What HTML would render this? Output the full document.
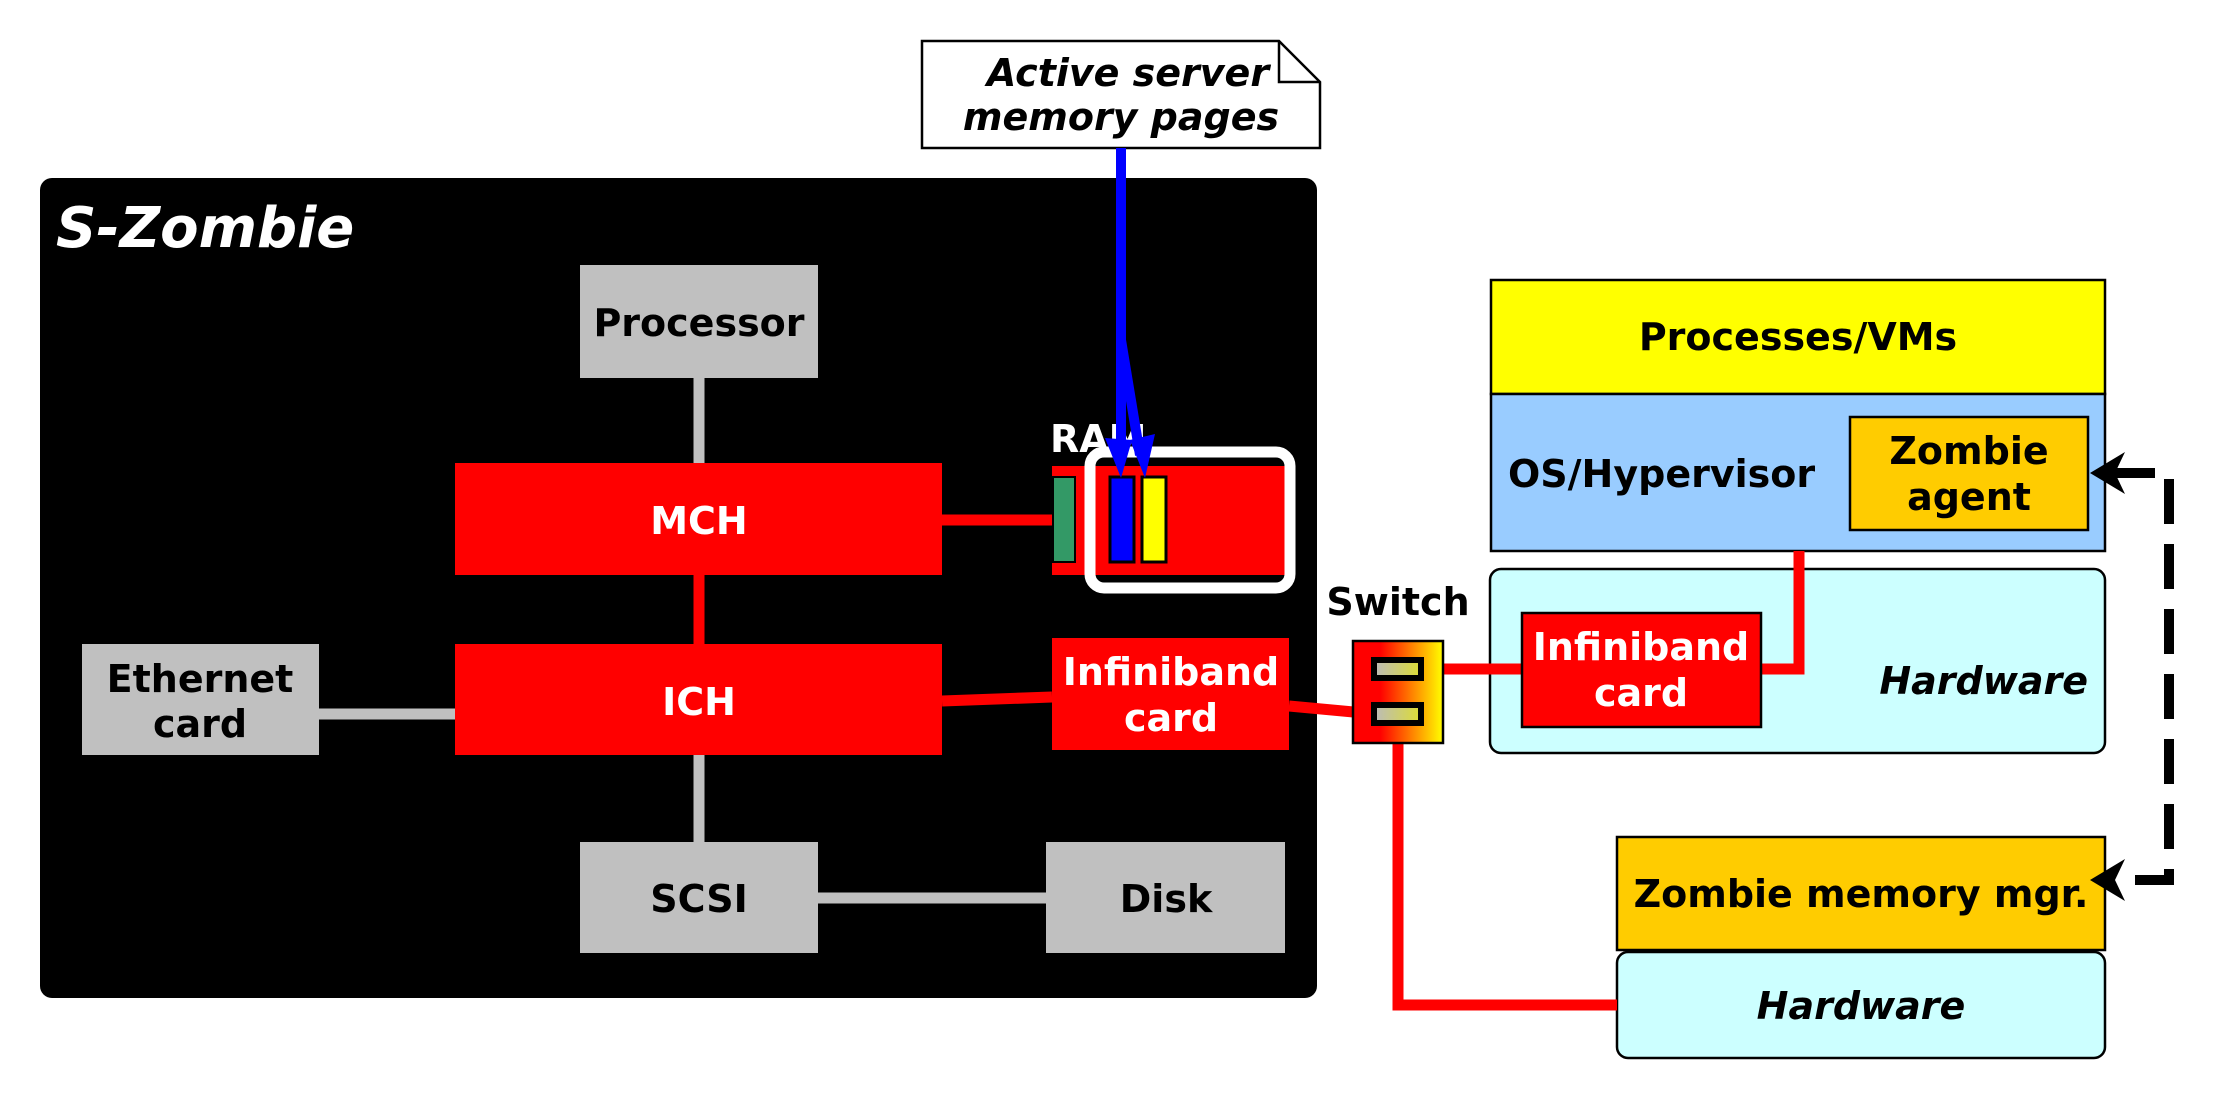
<!DOCTYPE html>
<html><head><meta charset="utf-8"><style>
html,body{margin:0;padding:0;background:#fff;}
svg{display:block;}
text{font-family:"DejaVu Sans","Liberation Sans",sans-serif;font-weight:bold;}
</style></head><body>
<svg width="2214" height="1103" viewBox="0 0 2214 1103" xmlns="http://www.w3.org/2000/svg">
<defs>
<linearGradient id="sw" x1="0" x2="1" y1="0" y2="0">
<stop offset="0.3" stop-color="#ff0000"/><stop offset="1" stop-color="#ffff00"/></linearGradient>
<linearGradient id="pt" x1="0" x2="1"><stop offset="0" stop-color="#bbbbbb"/><stop offset="1" stop-color="#dddd33"/></linearGradient>
</defs>
<rect x="40" y="178" width="1277" height="820" rx="12" fill="#000"/>
<text x="56" y="247" font-size="56" font-style="italic" fill="#fff">S-Zombie</text>

<line x1="699" y1="378" x2="699" y2="463" stroke="#c0c0c0" stroke-width="11"/>
<line x1="699" y1="575" x2="699" y2="644" stroke="#ff0000" stroke-width="11"/>
<line x1="699" y1="755" x2="699" y2="842" stroke="#c0c0c0" stroke-width="11"/>
<line x1="319" y1="714" x2="455" y2="714" stroke="#c0c0c0" stroke-width="11"/>
<line x1="818" y1="898" x2="1046" y2="898" stroke="#c0c0c0" stroke-width="11"/>
<line x1="942" y1="520" x2="1054" y2="520" stroke="#ff0000" stroke-width="11"/>
<line x1="942" y1="701" x2="1052" y2="697" stroke="#ff0000" stroke-width="11"/>

<rect x="580" y="265" width="238" height="113" fill="#c0c0c0"/>
<text x="699" y="336" font-size="38" text-anchor="middle" fill="#000">Processor</text>
<rect x="455" y="463" width="487" height="112" fill="#ff0000"/>
<text x="699" y="534" font-size="38" text-anchor="middle" fill="#fff">MCH</text>
<rect x="455" y="644" width="487" height="111" fill="#ff0000"/>
<text x="699" y="715" font-size="38" text-anchor="middle" fill="#fff">ICH</text>
<rect x="82" y="644" width="237" height="111" fill="#c0c0c0"/>
<text x="200" y="692" font-size="38" text-anchor="middle" fill="#000">Ethernet</text>
<text x="200" y="737" font-size="38" text-anchor="middle" fill="#000">card</text>
<rect x="580" y="842" width="238" height="111" fill="#c0c0c0"/>
<text x="699" y="912" font-size="38" text-anchor="middle" fill="#000">SCSI</text>
<rect x="1046" y="842" width="239" height="111" fill="#c0c0c0"/>
<text x="1166" y="912" font-size="38" text-anchor="middle" fill="#000">Disk</text>

<text x="1050" y="452" font-size="38" fill="#fff">RAM</text>
<rect x="1052" y="466" width="234" height="109" fill="#ff0000"/>
<rect x="1053" y="477" width="22" height="85" fill="#339966" stroke="#000" stroke-width="2"/>
<rect x="1110" y="477" width="24" height="85" fill="#0000ff" stroke="#000" stroke-width="3"/>
<rect x="1142" y="477" width="24" height="85" fill="#ffff00" stroke="#000" stroke-width="3"/>
<rect x="1090" y="452" width="200" height="136" rx="14" fill="none" stroke="#fff" stroke-width="11"/>

<rect x="1052" y="638" width="237" height="112" fill="#ff0000"/>
<text x="1171" y="685" font-size="38" text-anchor="middle" fill="#fff">Infiniband</text>
<text x="1171" y="731" font-size="38" text-anchor="middle" fill="#fff">card</text>

<path d="M922 41 H1279 L1320 82 V148 H922 Z" fill="#fff" stroke="#000" stroke-width="2.5"/>
<path d="M1279 41 V82 H1320" fill="none" stroke="#000" stroke-width="2.5"/>
<text x="1128" y="86" font-size="38" font-style="italic" text-anchor="middle">Active server</text>
<text x="1121" y="130" font-size="38" font-style="italic" text-anchor="middle">memory pages</text>

<path d="M1121 148 V340 L1121 455" stroke="#0000ff" stroke-width="10" fill="none"/>
<path d="M1121 340 L1140 455" stroke="#0000ff" stroke-width="10" fill="none"/>
<path d="M1105 438 L1121 478 L1132 440 Z" fill="#0000ff"/>
<path d="M1130 440 L1145 478 L1155 434 Z" fill="#0000ff"/>

<!-- right side boxes -->
<rect x="1491" y="280" width="614" height="114" fill="#ffff00" stroke="#000" stroke-width="2.5"/>
<text x="1798" y="350" font-size="38" text-anchor="middle">Processes/VMs</text>
<rect x="1491" y="394" width="614" height="157" fill="#99ccff" stroke="#000" stroke-width="2.5"/>
<text x="1508" y="487" font-size="38">OS/Hypervisor</text>
<rect x="1850" y="417" width="238" height="113" fill="#ffcc00" stroke="#000" stroke-width="2.5"/>
<text x="1969" y="464" font-size="38" text-anchor="middle">Zombie</text>
<text x="1969" y="510" font-size="38" text-anchor="middle">agent</text>

<rect x="1490" y="569" width="615" height="184" rx="11" fill="#ccffff" stroke="#000" stroke-width="2.5"/>
<text x="2088" y="694" font-size="38" font-style="italic" text-anchor="end">Hardware</text>

<rect x="1617" y="837" width="488" height="113" fill="#ffcc00" stroke="#000" stroke-width="2.5"/>
<text x="1861" y="907" font-size="38" text-anchor="middle">Zombie memory mgr.</text>
<rect x="1617" y="952" width="488" height="106" rx="11" fill="#ccffff" stroke="#000" stroke-width="2.5"/>
<text x="1861" y="1019" font-size="38" font-style="italic" text-anchor="middle">Hardware</text>

<!-- switch connectors (on top) -->
<line x1="1289" y1="706" x2="1375" y2="714" stroke="#ff0000" stroke-width="11"/>
<line x1="1420" y1="669" x2="1522" y2="669" stroke="#ff0000" stroke-width="11"/>
<path d="M1398 743 V1005 H1617" stroke="#ff0000" stroke-width="11" fill="none"/>
<path d="M1761 669 H1799 V551" stroke="#ff0000" stroke-width="11" fill="none"/>

<rect x="1522" y="613" width="239" height="114" fill="#ff0000" stroke="#000" stroke-width="2.5"/>
<text x="1641" y="660" font-size="38" text-anchor="middle" fill="#fff">Infiniband</text>
<text x="1641" y="706" font-size="38" text-anchor="middle" fill="#fff">card</text>

<text x="1398" y="615" font-size="38" text-anchor="middle" fill="#000">Switch</text>
<rect x="1353" y="641" width="90" height="102" fill="url(#sw)" stroke="#000" stroke-width="2.5"/>
<rect x="1374" y="660" width="47" height="18" fill="url(#pt)" stroke="#000" stroke-width="6"/>
<rect x="1374" y="705" width="47" height="18" fill="url(#pt)" stroke="#000" stroke-width="6"/>

<path d="M2110 473 H2169 V880 H2110" stroke="#000" stroke-width="10" fill="none" stroke-dasharray="45,20"/>
<path d="M2090 473 L2125 452 L2115 473 L2125 494 Z" fill="#000"/>
<path d="M2090 880 L2125 859 L2115 880 L2125 901 Z" fill="#000"/>
</svg>
</body></html>
